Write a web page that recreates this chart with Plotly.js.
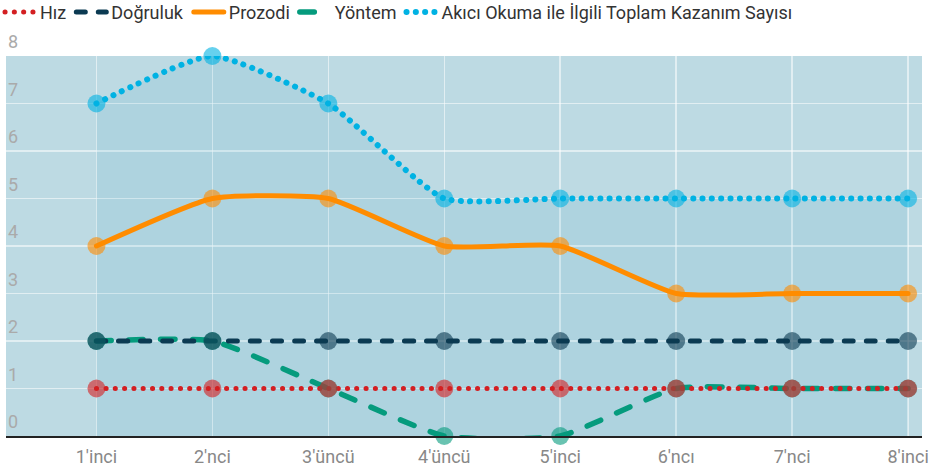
<!DOCTYPE html>
<html>
<head>
<meta charset="utf-8">
<script src="https://cdn.plot.ly/plotly-3.0.1.min.js"></script>
<style>
html,body{margin:0;padding:0;background:#fff;}
#chart{width:941px;height:470px;}
#chart path.js-line{stroke-linecap:round;}
</style>
</head>
<body>
<div id="chart"></div>
<script>
const categories = ["1'inci", "2'nci", "3'üncü", "4'üncü", "5'inci", "6'ncı", "7'nci", "8'inci"];
const hiz = [1, 1, 1, 1, 1, 1, 1, 1];
const dogruluk = [2, 2, 2, 2, 2, 2, 2, 2];
const prozodi = [4, 5, 5, 4, 4, 3, 3, 3];
const yontem = [2, 2, 1, 0, 0, 1, 1, 1];
const akici = [7, 8, 7, 5, 5, 5, 5, 5];
const yTicks = [0, 1, 2, 3, 4, 5, 6, 7, 8];

const xIdx = categories.map((c, i) => i);
const SMOOTH = 0.5;

function lineTrace(name, y, color, dash, width, rank) {
  return {
    type: 'scatter', mode: 'lines', name: name, legendrank: rank,
    x: xIdx, y: y,
    line: {color: color, width: width, dash: dash, shape: 'spline', smoothing: SMOOTH},
    cliponaxis: false, hoverinfo: 'skip'
  };
}
function markerTrace(y, color) {
  return {
    type: 'scatter', mode: 'markers', x: xIdx, y: y, showlegend: false,
    marker: {color: color, size: 18, opacity: 0.6, line: {width: 0}},
    cliponaxis: false, hoverinfo: 'skip'
  };
}

const cols = {
  hiz: '#d31f22', dog: '#0b3a52', pro: '#ff8c00', yon: '#059b7d', aki: '#00b2e3'
};

const data = [
  {type: 'scatter', mode: 'lines', x: xIdx, y: akici, fill: 'tozeroy',
   fillcolor: 'rgba(0,143,177,0.08)', line: {width: 0, shape: 'spline', smoothing: SMOOTH},
   showlegend: false, hoverinfo: 'skip'},
  lineTrace('Yöntem', yontem, cols.yon, '14.5px,17.5px', 5.5, 4),
  lineTrace('Doğruluk', dogruluk, cols.dog, '9px,13px', 5, 2),
  lineTrace('Prozodi', prozodi, cols.pro, 'solid', 5, 3),
  lineTrace('Akıcı Okuma ile İlgili Toplam Kazanım Sayısı', akici, cols.aki, '0.1px,9.2px', 6, 5),
  lineTrace('Hız', hiz, cols.hiz, '0.1px,9.2px', 5, 1),
  markerTrace(yontem, cols.yon),
  markerTrace(dogruluk, cols.dog),
  markerTrace(prozodi, cols.pro),
  markerTrace(akici, cols.aki),
  markerTrace(hiz, cols.hiz)
];

const annotations = yTicks.map(v => ({
  xref: 'paper', yref: 'y', x: 0, y: v, xanchor: 'left', yanchor: 'middle',
  xshift: 0, yshift: 14.5, text: String(v), showarrow: false,
  font: {family: 'Roboto, sans-serif', size: 18, color: '#aaaaaa'}
}));

const layout = {
  width: 941, height: 470,
  margin: {l: 6, r: 19, t: 56, b: 34, autoexpand: false},
  paper_bgcolor: '#ffffff',
  plot_bgcolor: '#bddae3',
  font: {family: 'Roboto, sans-serif', size: 16, color: '#444'},
  showlegend: true,
  legend: {orientation: 'h', xref: 'container', yref: 'container',
           x: 0.0, xanchor: 'left', y: 0.974, yanchor: 'middle',
           font: {size: 18, color: '#333'}, itemwidth: 30, traceorder: 'normal'},
  annotations: annotations,
  xaxis: {
    tickmode: 'array', tickvals: xIdx, ticktext: categories,
    range: [-0.78, 7.12], showgrid: true, gridcolor: 'rgba(255,255,255,0.55)', gridwidth: 1.5,
    zeroline: false, showline: true, linecolor: '#222', linewidth: 2,
    ticks: '', ticklabelstandoff: 3, tickfont: {size: 18, color: '#888'}
  },
  yaxis: {
    tickmode: 'array', tickvals: yTicks, range: [0, 8],
    showgrid: true, gridcolor: 'rgba(255,255,255,0.55)', gridwidth: 1.5,
    zeroline: false, showline: false, ticks: '', showticklabels: false
  }
};

Plotly.newPlot('chart', data, layout, {displayModeBar: false, staticPlot: true});
</script>
</body>
</html>
